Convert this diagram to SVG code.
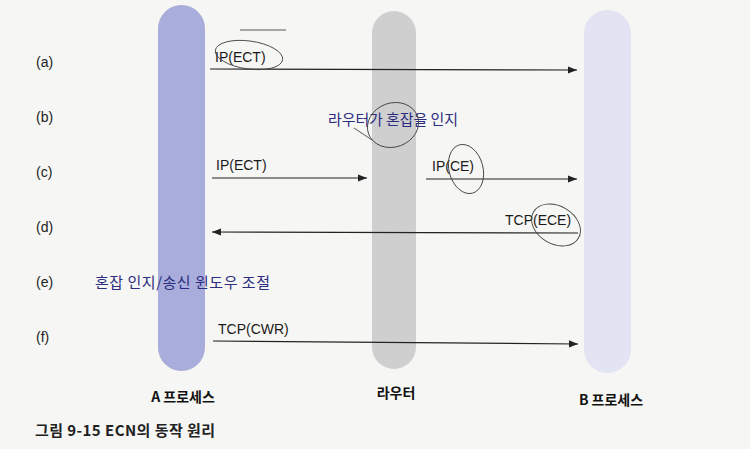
<svg xmlns="http://www.w3.org/2000/svg" width="750" height="449" viewBox="0 0 750 449">
<defs>
<style>
.lbl{font-family:"Liberation Sans","Noto Sans CJK KR",sans-serif;font-size:14px;fill:#222}
.msg{font-family:"Liberation Sans","Noto Sans CJK KR",sans-serif;font-size:14px;fill:#1a1a1a}
.kr{font-family:"Noto Sans CJK KR","Liberation Sans",sans-serif;font-size:15px;fill:#2c2c80}
.nm{font-family:"Noto Sans CJK KR","Liberation Sans",sans-serif;font-size:14px;font-weight:bold;fill:#111}
.cap{font-family:"Noto Sans CJK KR","Liberation Sans",sans-serif;font-size:15px;font-weight:bold;fill:#222}
.ln{stroke:#222;stroke-width:1.2;fill:none}
.pen{stroke:#444;stroke-width:0.9;fill:none}
</style>
<marker id="ah" viewBox="0 0 10 10" refX="10" refY="5" markerWidth="9" markerHeight="9" markerUnits="userSpaceOnUse" orient="auto">
<path d="M0,1 L10,5 L0,9 z" fill="#222"/>
</marker>
</defs>
<rect width="750" height="449" fill="#f6f6f4"/>

<g id="labels">
<text class="lbl" x="36" y="67">(a)</text>
<text class="lbl" x="36" y="122">(b)</text>
<text class="lbl" x="36" y="177">(c)</text>
<text class="lbl" x="36" y="232">(d)</text>
<text class="lbl" x="36" y="287">(e)</text>
<text class="lbl" x="36" y="342">(f)</text>
</g>

<g id="nodeA">
<rect x="158" y="5" width="47" height="366" rx="23.5" fill="#a8addb"/>
<text class="nm" x="183" y="402" text-anchor="middle">A 프로세스</text>
</g>
<g id="router">
<rect x="372" y="11" width="44" height="358" rx="22" fill="#cfcfcf"/>
<text class="nm" x="396" y="398" text-anchor="middle">라우터</text>
</g>
<g id="nodeB">
<rect x="584" y="10" width="47" height="363" rx="23.5" fill="#e2e4f3"/>
<text class="nm" x="611" y="405" text-anchor="middle">B 프로세스</text>
</g>

<g id="notes">
<text class="kr" x="328" y="125" textLength="130" lengthAdjust="spacing">라우터가 혼잡을 인지</text>
<text class="kr" x="95" y="288" textLength="175" lengthAdjust="spacing">혼잡 인지/송신 윈도우 조절</text>
</g>

<g id="connectors">
<line class="ln" x1="210" y1="69" x2="577" y2="70" marker-end="url(#ah)"/>
<text class="msg" x="215" y="62">IP(ECT)</text>
<line class="ln" x1="212" y1="178" x2="367" y2="178" marker-end="url(#ah)"/>
<text class="msg" x="216" y="170">IP(ECT)</text>
<line class="ln" x1="426" y1="179" x2="577" y2="179" marker-end="url(#ah)"/>
<text class="msg" x="432" y="171">IP(CE)</text>
<line class="ln" x1="578" y1="233" x2="212" y2="232" marker-end="url(#ah)"/>
<text class="msg" x="505" y="225">TCP(ECE)</text>
<line class="ln" x1="213" y1="341" x2="578" y2="344" marker-end="url(#ah)"/>
<text class="msg" x="218" y="334">TCP(CWR)</text>
</g>

<g id="caption">
<text class="cap" x="35" y="436" textLength="180" lengthAdjust="spacing">그림 9-15  ECN의 동작 원리</text>
</g>

<g id="pencil">
<ellipse class="pen" cx="249" cy="55" rx="34" ry="14" transform="rotate(8 249 55)"/>
<line class="pen" x1="240" y1="30" x2="286" y2="30"/>
<ellipse class="pen" cx="393" cy="125" rx="26" ry="22" transform="rotate(-20 393 125)"/>
<line class="pen" x1="354" y1="128" x2="372" y2="140"/>
<ellipse class="pen" cx="466" cy="169" rx="17" ry="25" transform="rotate(-15 466 169)"/>
<ellipse class="pen" cx="556" cy="225" rx="26" ry="19" transform="rotate(30 556 225)"/>
</g>
</svg>
